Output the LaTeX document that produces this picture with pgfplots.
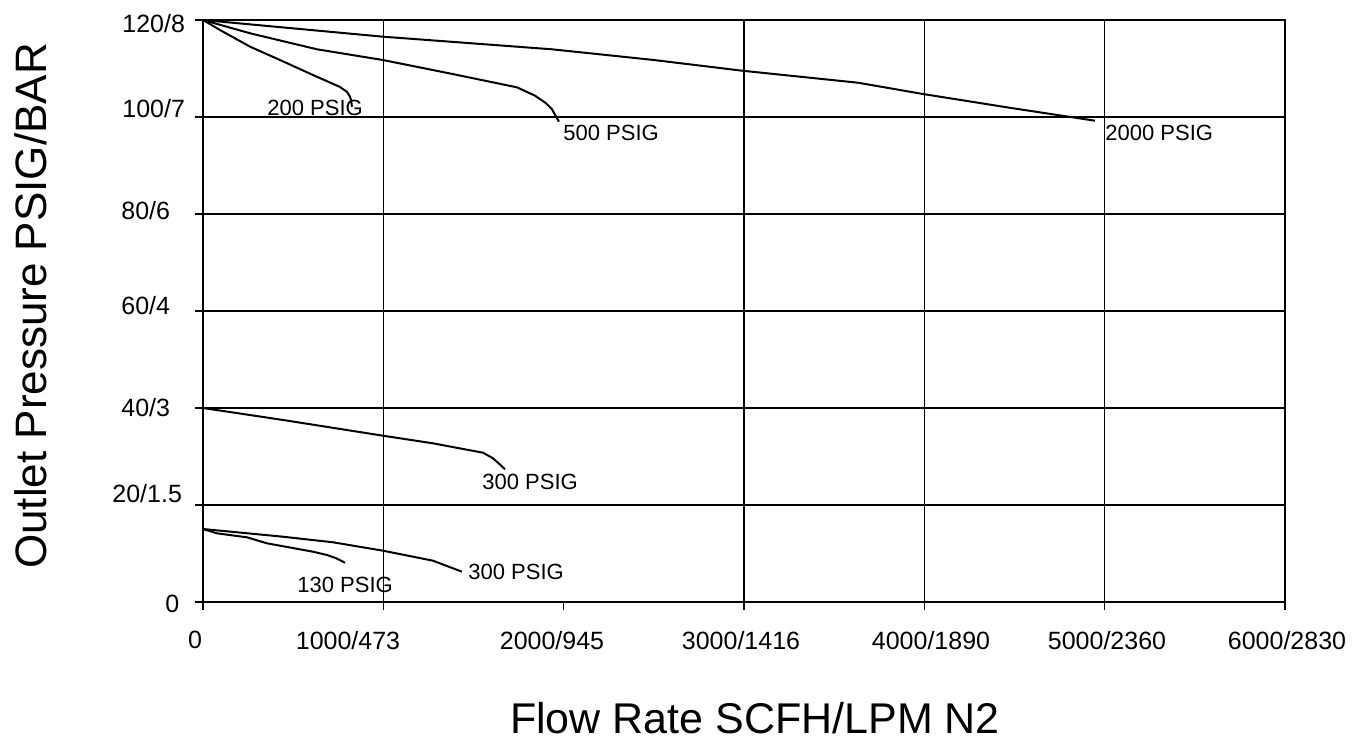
\documentclass[border=0pt]{standalone}
\usepackage{pgfplots}
\pgfplotsset{compat=1.18}
\usepackage{fontspec}
\setmainfont{Liberation Sans}
\begin{document}
\begin{tikzpicture}[x=0.5pt,y=-0.5pt]
\path[use as bounding box] (0,0) rectangle (1355,750);
\begin{axis}[
  at={(101.5pt,-301pt)}, anchor=south west,
  scale only axis, width=541pt, height=291pt,
  xmin=0, xmax=6000, ymin=0, ymax=120,
  axis line style={line width=1pt},
  xtick={0,2000,6000}, xticklabels={,,},
  extra x ticks={1000,3000,4000,5000}, extra x tick labels={,,,},
  extra x tick style={grid=major},
  ytick={0,20,40,60,80,100,120}, yticklabels={,,,,,,},
  ymajorgrids,
  grid style={black, line width=0.8pt},
  tick align=outside, xtick pos=left, ytick pos=left,
  major tick length=4pt,
  every tick/.style={black, line width=0.8pt},
  clip=false,
]
% 2000 PSIG
\addplot[black, line width=1pt] coordinates {
(0,120) (998,116.56) (1370,115.53) (1935,113.96) (2501,111.75) (2989,109.55)
(3632,107.07) (3993,104.74) (4481,101.86) (4946,99.24)};
% 500 PSIG
\addplot[black, line width=1pt] coordinates {
(0,120) (261,117.26) (632,113.96) (998,111.75) (1370,108.97) (1741,106.12)
(1841,104.4) (1900,102.9) (1935,101.6) (1974,99.03)};
% 200 PSIG
\addplot[black, line width=1pt] coordinates {
(0,120) (94,117.94) (261,114.5) (427,111.75) (610,108.66) (760,106.19)
(799,105.15) (815,104.2) (821,103.51) (826,102.12)};
% 300 PSIG (upper)
\addplot[black, line width=1pt] coordinates {
(0,40) (444,37.53) (998,34.29) (1275,32.72) (1553,30.78) (1608,29.63) (1645,28.4) (1675,27.36)};
% 300 PSIG (lower)
\addplot[black, line width=1pt] coordinates {
(0,15.05) (444,13.46) (721,12.31) (998,10.58) (1275,8.52) (1436,6.25)};
% 130 PSIG
\addplot[black, line width=1pt] coordinates {
(0,15.05) (78,14.16) (244,13.34) (355,12.1) (610,10.37) (688,9.69) (740,9.0) (787,8.1)};
\end{axis}
% y tick labels
\begin{scope}[every node/.style={font=\fontsize{12.5pt}{15pt}\selectfont, inner sep=0pt, anchor=west}]
\node at (122,24) {120/8};
\node at (122,109) {100/7};
\node at (121,211) {80/6};
\node at (121,306) {60/4};
\node at (121,408) {40/3};
\node at (112,494) {20/1.5};
\node at (165,604) {0};
\end{scope}
% x tick labels
\begin{scope}[every node/.style={font=\fontsize{12.5pt}{15pt}\selectfont, inner sep=0pt, anchor=center}]
\node at (195,640) {0};
\node at (348,641) {1000/473};
\node at (552,641) {2000/945};
\node at (741,641) {3000/1416};
\node at (931,641) {4000/1890};
\node at (1107,641) {5000/2360};
\node at (1287,641) {6000/2830};
\end{scope}
% curve labels
\begin{scope}[every node/.style={font=\fontsize{11pt}{13pt}\selectfont, inner sep=0pt, anchor=west}]
\node at (267,107.5) {200 PSIG};
\node at (563,132.5) {500 PSIG};
\node at (1105,132.5) {2000 PSIG};
\node at (482,481.5) {300 PSIG};
\node at (468,571.5) {300 PSIG};
\node at (297,585) {130 PSIG};
\end{scope}
% axis labels
\node[font=\fontsize{22pt}{26pt}\selectfont, inner sep=0pt, rotate=90] at (31,306) {Outlet Pressure PSIG/BAR};
\node[font=\fontsize{21.5pt}{25pt}\selectfont, inner sep=0pt] at (755,718) {Flow Rate SCFH/LPM N2};
\end{tikzpicture}
\end{document}
